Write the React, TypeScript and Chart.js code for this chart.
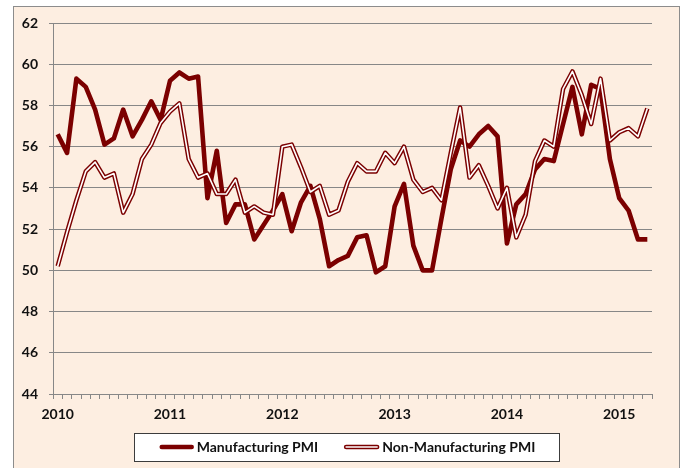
import React, { useEffect, useRef } from 'react';
import { Chart, registerables } from 'chart.js';

Chart.register(...registerables);

const years = ['2010', '2011', '2012', '2013', '2014', '2015'];
const monthNames = ['Jan', 'Feb', 'Mar', 'Apr', 'May', 'Jun', 'Jul', 'Aug', 'Sep', 'Oct', 'Nov', 'Dec'];
const categories = years.flatMap((y) => monthNames.map((m) => `${m} ${y}`)).slice(0, 64);

const manufacturing = [
  56.6, 55.7, 59.3, 58.9, 57.8, 56.1, 56.4, 57.8, 56.5, 57.3, 58.2, 57.3,
  59.2, 59.6, 59.3, 59.4, 53.5, 55.8, 52.3, 53.2, 53.2, 51.5, 52.2, 52.9,
  53.7, 51.9, 53.3, 54.1, 52.5, 50.2, 50.5, 50.7, 51.6, 51.7, 49.9, 50.2,
  53.1, 54.2, 51.2, 50.0, 50.0, 52.5, 54.9, 56.3, 56.0, 56.6, 57.0, 56.5,
  51.3, 53.2, 53.7, 54.9, 55.4, 55.3, 57.1, 58.9, 56.6, 59.0, 58.8, 55.4,
  53.5, 52.9, 51.5, 51.5,
];

const nonManufacturing = [
  50.2, 51.85, 53.4, 54.8, 55.25, 54.5, 54.7, 52.8, 53.7, 55.4, 56.1, 57.15,
  57.7, 58.1, 55.4, 54.5, 54.7, 53.7, 53.7, 54.4, 52.8, 53.1, 52.8, 52.7,
  56.0, 56.1, 55.0, 53.8, 54.1, 52.7, 52.9, 54.3, 55.2, 54.8, 54.8, 55.7,
  55.2, 56.0, 54.4, 53.8, 54.0, 53.4, 55.7, 57.9, 54.5, 55.1, 54.1, 53.0,
  54.0, 51.6, 52.7, 55.3, 56.3, 56.0, 58.8, 59.65, 58.5, 57.1, 59.3, 56.3,
  56.7, 56.9, 56.5, 57.85,
];

const seriesNames = ['Manufacturing PMI', 'Non-Manufacturing PMI'];

const DARK = '#7b0000';
const GRID = '#878787';
const PEACH = '#fdeee1';
const TEXT = '#111111';
const FAMILY = 'Lato, "Noto Sans", sans-serif';
const FONT = { family: FAMILY, weight: 'bold' as const, size: 14 };

function drawSample(ctx: CanvasRenderingContext2D, x: number, y: number, len: number, double: boolean) {
  ctx.save();
  ctx.lineCap = 'round';
  ctx.strokeStyle = DARK;
  ctx.lineWidth = 4.5;
  ctx.beginPath();
  ctx.moveTo(x + 2, y);
  ctx.lineTo(x + len - 2, y);
  ctx.stroke();
  if (double) {
    ctx.strokeStyle = '#ffffff';
    ctx.lineWidth = 1.6;
    ctx.beginPath();
    ctx.moveTo(x + 2, y);
    ctx.lineTo(x + len - 2, y);
    ctx.stroke();
  }
  ctx.restore();
}

const backgroundPlugin = {
  id: 'excelBackground',
  beforeDraw(chart: any) {
    const { ctx } = chart;
    ctx.save();
    ctx.fillStyle = '#ffffff';
    ctx.fillRect(0, 0, chart.width, chart.height);
    ctx.fillStyle = PEACH;
    ctx.fillRect(13.5, 6.5, 666, 470);
    ctx.strokeStyle = '#8c8c8c';
    ctx.lineWidth = 1;
    ctx.strokeRect(13.5, 6.5, 666, 470);
    ctx.restore();
  },
};

const boxedLegendPlugin = {
  id: 'boxedLegend',
  afterDraw(chart: any) {
    const { ctx } = chart;
    ctx.save();
    ctx.font = `bold 14px ${FAMILY}`;
    const w1 = ctx.measureText(seriesNames[0]).width;
    const w2 = ctx.measureText(seriesNames[1]).width;
    const sample1 = 34;
    const sample2 = 35;
    const gapText = 3;
    const gapItems = 26;
    const total = sample1 + gapText + w1 + gapItems + sample2 + gapText + w2;
    const cx = (chart.chartArea.left + chart.chartArea.right) / 2 - 5;
    const start = cx - total / 2;
    const end = start + total;
    const cy = 447;
    const bl = Math.round(start - 26) + 0.5;
    const br = Math.round(end + 24) + 0.5;
    ctx.fillStyle = '#ffffff';
    ctx.fillRect(bl, 433.5, br - bl, 28);
    ctx.strokeStyle = '#3c3c3c';
    ctx.lineWidth = 1;
    ctx.strokeRect(bl, 433.5, br - bl, 28);

    let x = start;
    drawSample(ctx, x, cy, sample1, false);
    x += sample1 + gapText;
    ctx.fillStyle = TEXT;
    ctx.textAlign = 'left';
    ctx.textBaseline = 'middle';
    ctx.fillText(seriesNames[0], x, cy);
    x += w1 + gapItems;
    drawSample(ctx, x, cy, sample2, true);
    x += sample2 + gapText;
    ctx.fillStyle = TEXT;
    ctx.fillText(seriesNames[1], x, cy);
    ctx.restore();
  },
};

export default function App() {
  const ref = useRef<HTMLCanvasElement | null>(null);

  useEffect(() => {
    if (!ref.current) return;
    const chart = new Chart(ref.current, {
      type: 'line',
      data: {
        labels: categories,
        datasets: [
          {
            label: seriesNames[1],
            data: nonManufacturing,
            borderColor: '#ffffff',
            borderWidth: 1.6,
            pointRadius: 0,
            tension: 0,
            borderJoinStyle: 'round',
            fill: false,
          },
          {
            label: seriesNames[1] + ' outline',
            data: nonManufacturing,
            borderColor: DARK,
            borderWidth: 4.5,
            pointRadius: 0,
            tension: 0,
            borderJoinStyle: 'round',
            fill: false,
          },
          {
            label: seriesNames[0],
            data: manufacturing,
            borderColor: DARK,
            borderWidth: 4.6,
            pointRadius: 0,
            tension: 0,
            borderJoinStyle: 'round',
            fill: false,
          },
        ],
      },
      options: {
        responsive: false,
        animation: false,
        events: [],
        layout: { padding: { left: 14, right: 28, top: 23, bottom: 44 } },
        plugins: {
          tooltip: { enabled: false },
          title: { display: false },
          legend: { display: false },
        },
        scales: {
          x: {
            type: 'category',
            offset: true,
            grid: {
              offset: true,
              drawOnChartArea: false,
              drawTicks: true,
              tickLength: 5,
              color: GRID,
            },
            border: { display: true, color: GRID },
            ticks: {
              autoSkip: false,
              maxRotation: 0,
              minRotation: 0,
              padding: 7,
              color: TEXT,
              font: FONT,
              callback: (_v: any, i: number) => (i % 12 === 0 ? years[i / 12] : ''),
            },
            afterFit: (s: any) => {
              s.height = 30;
            },
          },
          y: {
            min: 44,
            max: 62,
            ticks: { stepSize: 2, padding: 11, color: TEXT, font: FONT },
            grid: { color: GRID, tickLength: 4 },
            border: { display: true, color: GRID },
            afterFit: (s: any) => {
              s.width = 39;
            },
          },
        },
      },
      plugins: [backgroundPlugin, boxedLegendPlugin],
    });
    return () => chart.destroy();
  }, []);

  return (
    <div style={{ position: 'fixed', left: 0, top: 0, width: 680, height: 468 }}>
      <canvas ref={ref} width={680} height={468} style={{ display: 'block' }} />
    </div>
  );
}
